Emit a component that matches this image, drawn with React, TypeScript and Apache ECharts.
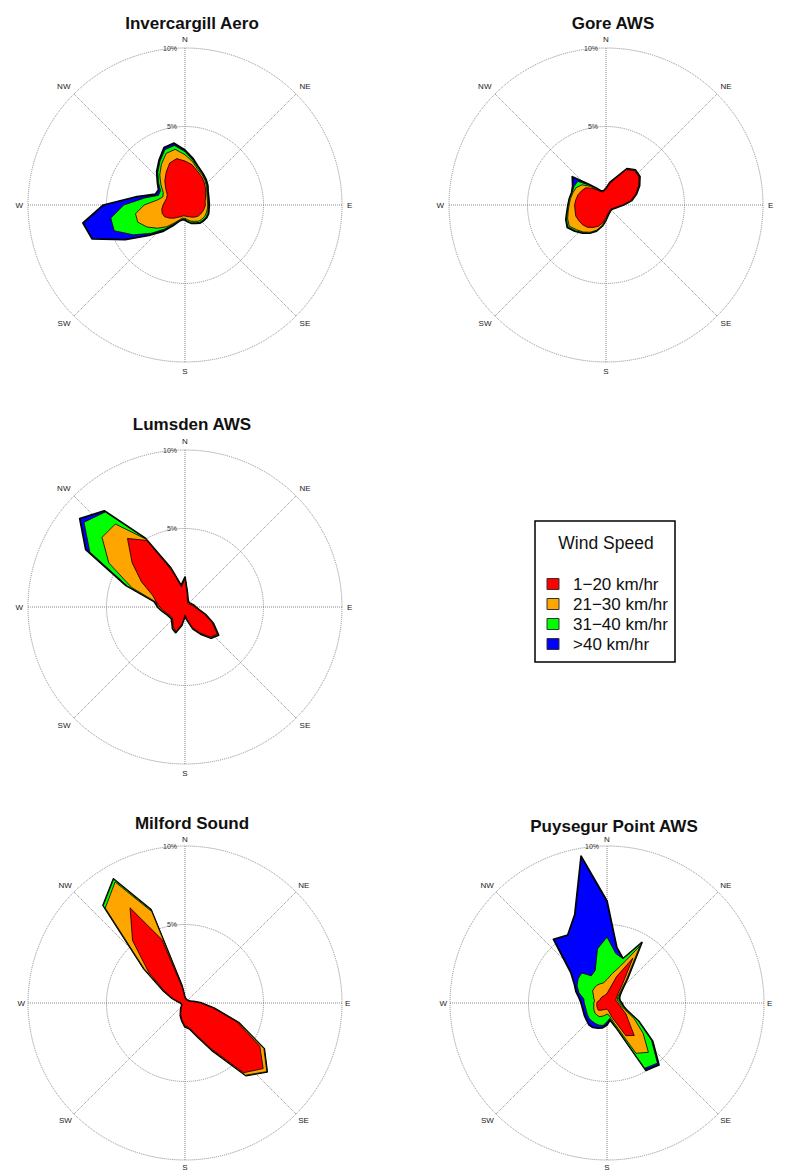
import React, { useEffect, useRef } from "react";
import * as echarts from "echarts";

// ---------- data ----------
const directions = [
  0, 10, 20, 30, 40, 50, 60, 70, 80, 90, 100, 110, 120, 130, 140, 150, 160, 170,
  180, 190, 200, 210, 220, 230, 240, 250, 260, 270, 280, 290, 300, 310, 320, 330, 340, 350,
];
const compassLabels = ["N", "NE", "E", "SE", "S", "SW", "W", "NW"];
const speedBands = ["1\u221220 km/hr", "21\u221230 km/hr", "31\u221240 km/hr", ">40 km/hr"];
const legendTitle = "Wind Speed";
const stationNames = ["Invercargill Aero", "Gore AWS", "Lumsden AWS", "Milford Sound", "Puysegur Point AWS"];

// cumulative frequency (%) by direction: up to 20, up to 30, up to 40, all speeds
const invercargillUpTo20 = [2.8, 2.6, 2.3, 2.1, 1.9, 1.7, 1.5, 1.4, 1.3, 1.3, 1.25, 1.2, 1.15, 1.1, 1.0, 0.9, 0.8, 0.75, 0.7, 0.7, 0.8, 0.9, 1.1, 1.3, 1.5, 1.55, 1.5, 1.4, 1.3, 1.25, 1.3, 1.6, 2.0, 2.4, 2.85, 3.0];
const invercargillUpTo30 = [3.2, 2.8, 2.4, 2.2, 2.0, 1.8, 1.6, 1.5, 1.45, 1.45, 1.45, 1.45, 1.45, 1.4, 1.35, 1.2, 1.1, 0.95, 0.85, 0.85, 1.0, 1.3, 1.8, 2.3, 2.8, 3.2, 3.2, 2.6, 1.8, 1.5, 1.6, 2.0, 2.5, 3.0, 3.5, 3.6];
const invercargillUpTo40 = [3.4, 2.9, 2.5, 2.25, 2.05, 1.85, 1.65, 1.55, 1.5, 1.5, 1.5, 1.55, 1.55, 1.5, 1.45, 1.3, 1.2, 1.05, 0.9, 0.9, 1.05, 1.4, 2.0, 2.8, 3.8, 4.8, 4.8, 3.9, 2.6, 1.8, 1.8, 2.2, 2.7, 3.2, 3.75, 3.85];
const invercargillAll = [3.5, 3.0, 2.55, 2.3, 2.1, 1.9, 1.7, 1.6, 1.55, 1.55, 1.55, 1.6, 1.6, 1.55, 1.5, 1.35, 1.25, 1.1, 0.95, 0.95, 1.1, 1.5, 2.2, 3.0, 4.4, 6.3, 6.6, 5.2, 3.1, 2.0, 1.95, 2.3, 2.8, 3.3, 3.9, 4.0];

const goreUpTo20 = [1.0, 1.4, 1.8, 2.6, 2.85, 2.75, 2.4, 2.0, 1.6, 1.05, 0.7, 0.55, 0.45, 0.4, 0.4, 0.45, 0.5, 0.6, 0.8, 1.15, 1.45, 1.65, 1.85, 1.95, 2.0, 2.05, 2.0, 2.0, 1.95, 1.9, 1.8, 1.7, 1.4, 1.1, 0.9, 0.85];
const goreUpTo30 = [1.03, 1.43, 1.83, 2.63, 2.88, 2.78, 2.43, 2.03, 1.63, 1.08, 0.72, 0.57, 0.47, 0.42, 0.42, 0.47, 0.53, 0.65, 0.9, 1.3, 1.7, 2.0, 2.25, 2.45, 2.7, 2.6, 2.45, 2.35, 2.3, 2.25, 2.2, 2.0, 1.55, 1.15, 0.92, 0.88];
const goreUpTo40 = [1.05, 1.45, 1.85, 2.65, 2.9, 2.8, 2.45, 2.05, 1.65, 1.1, 0.74, 0.59, 0.49, 0.44, 0.44, 0.49, 0.55, 0.68, 0.95, 1.35, 1.75, 2.05, 2.3, 2.55, 2.8, 2.68, 2.5, 2.4, 2.35, 2.3, 2.35, 2.35, 1.65, 1.2, 0.95, 0.9];
const goreAll = [1.07, 1.47, 1.87, 2.67, 2.92, 2.82, 2.47, 2.07, 1.67, 1.12, 0.76, 0.61, 0.51, 0.46, 0.46, 0.51, 0.57, 0.7, 0.97, 1.37, 1.77, 2.07, 2.33, 2.6, 2.85, 2.72, 2.53, 2.42, 2.37, 2.33, 2.45, 2.8, 1.75, 1.25, 0.97, 0.92];

const lumsdenUpTo20 = [1.8, 0.8, 0.45, 0.35, 0.3, 0.3, 0.35, 0.4, 0.5, 0.6, 0.8, 1.3, 2.0, 2.7, 2.5, 1.9, 1.4, 0.8, 0.5, 1.1, 1.65, 1.5, 1.2, 1.05, 1.1, 1.2, 1.4, 1.6, 1.85, 2.2, 3.2, 4.4, 5.7, 4.9, 2.5, 1.3];
const lumsdenUpTo30 = [1.85, 0.85, 0.5, 0.4, 0.35, 0.35, 0.4, 0.45, 0.55, 0.65, 0.85, 1.35, 2.05, 2.75, 2.55, 1.95, 1.45, 0.85, 0.55, 1.15, 1.7, 1.55, 1.25, 1.1, 1.15, 1.25, 1.45, 1.7, 1.9, 3.6, 5.6, 6.9, 6.9, 5.0, 2.6, 1.35];
const lumsdenUpTo40 = [1.88, 0.88, 0.52, 0.42, 0.37, 0.37, 0.42, 0.47, 0.57, 0.67, 0.87, 1.37, 2.07, 2.77, 2.57, 1.97, 1.47, 0.87, 0.57, 1.17, 1.72, 1.57, 1.27, 1.12, 1.17, 1.27, 1.47, 1.72, 1.95, 3.9, 7.0, 8.4, 7.9, 5.02, 2.62, 1.37];
const lumsdenAll = [1.9, 0.9, 0.54, 0.44, 0.39, 0.39, 0.44, 0.49, 0.59, 0.69, 0.89, 1.39, 2.09, 2.79, 2.59, 1.99, 1.49, 0.89, 0.59, 1.19, 1.74, 1.59, 1.29, 1.14, 1.19, 1.29, 1.49, 1.74, 2.0, 4.0, 7.3, 8.75, 8.0, 5.05, 2.65, 1.4];

const milfordUpTo20 = [0.3, 0.25, 0.2, 0.2, 0.2, 0.2, 0.25, 0.3, 0.5, 1.0, 1.8, 3.5, 5.5, 6.5, 5.8, 3.4, 2.2, 1.6, 1.45, 1.1, 0.8, 0.5, 0.35, 0.25, 0.2, 0.2, 0.2, 0.25, 0.4, 0.8, 1.5, 3.0, 5.2, 7.0, 4.3, 1.0];
const milfordUpTo30 = [0.32, 0.27, 0.22, 0.22, 0.22, 0.22, 0.27, 0.32, 0.53, 1.03, 1.85, 3.6, 5.8, 6.8, 6.0, 3.5, 2.25, 1.65, 1.5, 1.13, 0.83, 0.53, 0.37, 0.27, 0.22, 0.22, 0.22, 0.27, 0.43, 0.85, 1.6, 3.4, 7.9, 8.9, 6.2, 1.1];
const milfordUpTo40 = [0.33, 0.28, 0.23, 0.23, 0.23, 0.23, 0.28, 0.33, 0.54, 1.04, 1.87, 3.62, 5.82, 6.82, 6.02, 3.52, 2.27, 1.67, 1.52, 1.15, 0.85, 0.55, 0.38, 0.28, 0.23, 0.23, 0.23, 0.28, 0.44, 0.87, 1.62, 3.45, 8.1, 9.1, 6.3, 1.12];
const milfordAll = [0.34, 0.29, 0.24, 0.24, 0.24, 0.24, 0.29, 0.34, 0.55, 1.05, 1.88, 3.63, 5.83, 6.83, 6.03, 3.53, 2.28, 1.68, 1.53, 1.16, 0.86, 0.56, 0.39, 0.29, 0.24, 0.24, 0.24, 0.29, 0.45, 0.88, 1.63, 3.46, 8.12, 9.12, 6.32, 1.13];

const puysegurUpTo20 = [0.6, 0.9, 1.8, 3.3, 1.5, 0.9, 0.7, 0.6, 0.6, 0.7, 0.8, 1.0, 1.4, 1.8, 2.7, 2.4, 1.0, 0.5, 0.4, 0.4, 0.45, 0.5, 0.6, 0.72, 0.7, 0.68, 0.66, 0.65, 0.6, 0.5, 0.5, 0.5, 0.5, 0.5, 0.5, 0.55];
const puysegurUpTo30 = [1.5, 1.9, 2.5, 4.2, 1.9, 1.1, 0.8, 0.7, 0.7, 0.8, 0.9, 1.2, 2.0, 3.0, 4.1, 3.7, 1.4, 0.8, 0.7, 0.8, 0.9, 1.0, 1.0, 1.0, 0.95, 0.9, 0.85, 0.85, 0.8, 0.9, 1.0, 1.2, 1.25, 1.3, 1.3, 1.3];
const puysegurUpTo40 = [4.2, 3.2, 3.0, 4.4, 2.0, 1.2, 0.9, 0.8, 0.8, 0.9, 1.0, 1.3, 2.3, 3.7, 5.0, 4.8, 1.6, 1.0, 1.2, 1.45, 1.5, 1.5, 1.5, 1.5, 1.45, 1.4, 1.4, 1.45, 1.5, 1.9, 2.2, 2.4, 2.5, 2.0, 2.2, 3.5];
const puysegurAll = [6.5, 3.6, 3.0, 4.45, 2.05, 1.25, 0.95, 0.85, 0.85, 0.95, 1.05, 1.35, 2.35, 3.8, 5.15, 4.95, 1.65, 1.1, 1.4, 1.6, 1.7, 1.8, 1.8, 1.7, 1.65, 1.6, 1.6, 1.65, 1.8, 2.1, 2.4, 3.0, 5.3, 5.0, 6.0, 9.5];

const stationData = [
  [invercargillUpTo20, invercargillUpTo30, invercargillUpTo40, invercargillAll],
  [goreUpTo20, goreUpTo30, goreUpTo40, goreAll],
  [lumsdenUpTo20, lumsdenUpTo30, lumsdenUpTo40, lumsdenAll],
  [milfordUpTo20, milfordUpTo30, milfordUpTo40, milfordAll],
  [puysegurUpTo20, puysegurUpTo30, puysegurUpTo40, puysegurAll],
];

// ---------- layout / style ----------
const layout = [
  { cx: 185, cy: 205, ty: 10, margin: 5 },
  { cx: 606, cy: 205, ty: 10, margin: 5 },
  { cx: 185, cy: 607, ty: 411, margin: 5 },
  { cx: 185, cy: 1003, ty: 810, margin: 3 },
  { cx: 607, cy: 1003, ty: 813, margin: 3 },
];
const bandColors = ["#FF0000", "#FFA500", "#00FF00", "#0000FF"];
const FONT = "'Liberation Sans', Arial, Helvetica, sans-serif";
const R = 157;

export default function App() {
  const ref = useRef<HTMLDivElement>(null);

  useEffect(() => {
    document.body.style.margin = "0";
    if (!ref.current) return;
    const chart = echarts.init(ref.current, undefined, { renderer: "svg" });

    const series: any[] = [];
    stationData.forEach((bands, si) => {
      for (let b = 3; b >= 0; b--) {
        const values = bands[b];
        const data = values.map((v, k) => [v, directions[k]]);
        series.push({
          type: "custom",
          coordinateSystem: "polar",
          polarIndex: si,
          name: speedBands[b],
          encode: { radius: 0, angle: 1 },
          data,
          clip: false,
          z: 3 + (3 - b),
          renderItem: (params: any, api: any) => {
            if (params.dataIndex !== 0) return null;
            const pts = data.map((d) => api.coord(d));
            return {
              type: "polygon",
              shape: { points: pts },
              style: {
                fill: bandColors[b],
                stroke: "#000",
                lineWidth: b === 3 ? 1.8 : 0.8,
                lineJoin: "round",
              },
            };
          },
        });
      }
    });

    const legendItems: any[] = [];
    speedBands.forEach((label, i) => {
      const y = 584 + i * 20;
      legendItems.push({
        type: "rect",
        shape: { x: 547, y: y - 5.5, width: 12, height: 11 },
        style: { fill: bandColors[i], stroke: "#333", lineWidth: 1 },
      });
      legendItems.push({
        type: "text",
        x: 573,
        y,
        style: { text: label, fontSize: 17, fontFamily: FONT, fill: "#111", align: "left", verticalAlign: "middle" },
      });
    });

    const option: any = {
      animation: false,
      backgroundColor: "#ffffff",
      title: stationNames.map((name, i) => ({
        text: name,
        left: layout[i].cx + 2,
        top: layout[i].ty,
        textAlign: "center",
        textStyle: { fontSize: 17, fontWeight: "bold", fontFamily: FONT, color: "#111" },
      })),
      polar: layout.map((l) => ({ center: [l.cx, l.cy], radius: R })),
      angleAxis: layout.map((l, i) => ({
        polarIndex: i,
        type: "value",
        min: 0,
        max: 360,
        interval: 45,
        startAngle: 90,
        clockwise: true,
        axisLine: { show: false },
        axisTick: { show: false },
        axisLabel: {
          margin: l.margin,
          fontSize: 8,
          fontFamily: FONT,
          color: "#222",
          formatter: (v: number) => (v >= 360 ? "" : compassLabels[Math.round(v / 45)]),
        },
        splitLine: { show: true, lineStyle: { type: "dotted", color: "#8a8a8a", width: 1 } },
      })),
      radiusAxis: layout.map((_, i) => ({
        polarIndex: i,
        type: "value",
        min: 0,
        max: 10,
        interval: 5,
        axisLine: { show: false },
        axisTick: { show: false },
        axisLabel: {
          fontSize: 7,
          fontFamily: FONT,
          color: "#333",
          formatter: (v: number) => (v === 0 ? "" : v + "%"),
        },
        splitLine: { show: true, lineStyle: { type: "dotted", color: "#8a8a8a", width: 1 } },
      })),
      series,
      graphic: [
        {
          type: "rect",
          shape: { x: 535, y: 521, width: 140, height: 141 },
          style: { fill: "#fff", stroke: "#000", lineWidth: 1.5 },
        },
        {
          type: "text",
          x: 606,
          y: 543,
          style: { text: legendTitle, fontSize: 17.5, fontFamily: FONT, fill: "#111", align: "center", verticalAlign: "middle" },
        },
        ...legendItems,
      ],
    };

    chart.setOption(option);
    return () => chart.dispose();
  }, []);

  return <div ref={ref} style={{ width: 787, height: 1174 }} />;
}
